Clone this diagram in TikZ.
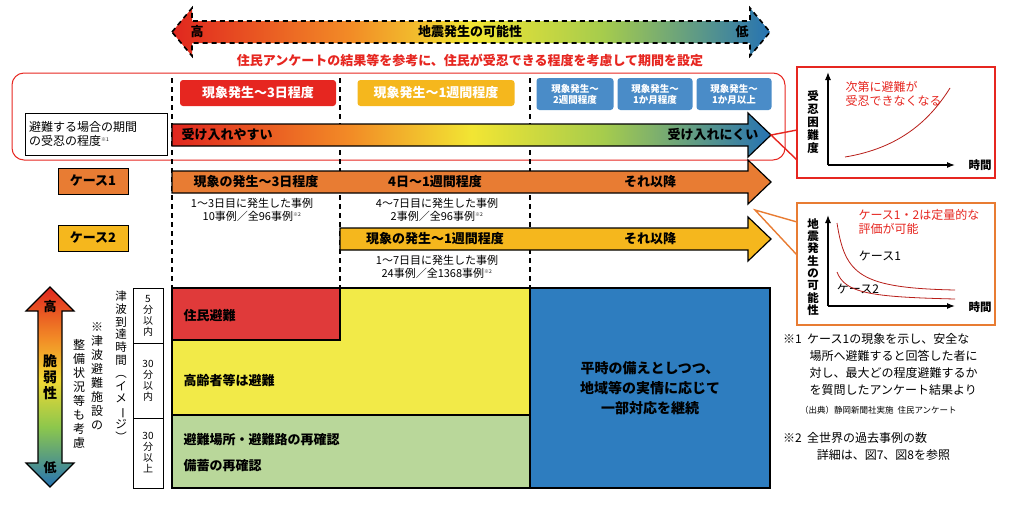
\documentclass[tikz,border=0pt]{standalone}
\usepackage{fontspec}
\setmainfont{Noto Sans CJK JP}
\usetikzlibrary{calc,arrows.meta}
\definecolor{cred}{HTML}{E62620}
\definecolor{corg}{HTML}{E87C33}
\definecolor{cyel}{HTML}{F5B71D}
\definecolor{cblu}{HTML}{4A8CC8}
\definecolor{tred}{HTML}{E03A3A}
\definecolor{tyel}{HTML}{F2EA48}
\definecolor{tgrn}{HTML}{B9D79A}
\definecolor{tblu}{HTML}{2E7DBF}
\pgfdeclarehorizontalshading{hgrad}{100bp}{rgb(0bp)=(0.88,0.15,0.12);rgb(25bp)=(0.88,0.15,0.12);rgb(40bp)=(0.95,0.55,0.15);rgb(50bp)=(0.95,0.9,0.2);rgb(61bp)=(0.65,0.8,0.3);rgb(75bp)=(0.15,0.45,0.7);rgb(100bp)=(0.15,0.45,0.7)}
\pgfdeclareverticalshading{vgrad}{100bp}{rgb(0bp)=(0.15,0.45,0.7);rgb(25bp)=(0.15,0.45,0.7);rgb(40bp)=(0.55,0.78,0.3);rgb(52bp)=(0.95,0.85,0.2);rgb(62bp)=(0.95,0.55,0.15);rgb(75bp)=(0.88,0.15,0.12);rgb(100bp)=(0.88,0.15,0.12)}
\tikzset{
  bt/.style={font=\bfseries\fontsize{13}{15}\selectfont},
  sm/.style={font=\fontsize{11}{13}\selectfont, align=center},
  wbox/.style={rounded corners=3pt, text=white, font=\bfseries\fontsize{13}{15}\selectfont, inner sep=0pt},
  bbox/.style={rounded corners=3pt, fill=cblu, text=white, font=\bfseries\fontsize{9.5}{11}\selectfont, align=center, inner sep=0pt},
  vtxt/.style={align=center, font=\fontsize{12}{12.5}\selectfont, inner sep=0pt},
  dl/.style={dashed, thick, dash pattern=on 5pt off 4pt},
}
\newcommand{\vbar}{\rotatebox[origin=c]{-90}{ー}}
\begin{document}
\begin{tikzpicture}[x=1pt,y=-1pt]
\useasboundingbox (0,0) rectangle (1011,507);
% top arrow
\shade[shading=hgrad, draw=black, dl, line width=1.6pt]
 (172,32)--(192,8)--(192,21)--(750,21)--(750,8)--(770,32)--(750,56)--(750,43)--(192,43)--(192,56)--cycle;
\node[bt] (hi) at (197,32) {高};
\node[bt] (lo) at (742,32) {低};
\node[bt] (pos) at (470,32) {地震発生の可能性};
\node[bt, text=cred] (note) at (470,60) {住民アンケートの結果等を参考に、住民が受忍できる程度を考慮して期間を設定};
% red rounded frame
\draw[cred, line width=1pt, rounded corners=12pt] (12,73) rectangle (785,160);
% dashed verticals
\foreach \x in {172,340,530} \draw[dl, line width=1.2pt] (\x,78)--(\x,290);
% period boxes
\node[wbox, fill=cred, minimum width=156pt, minimum height=26pt] (p1) at (258,93) {現象発生～3日程度};
\node[wbox, fill=cyel, minimum width=157pt, minimum height=26pt] (p2) at (436,93) {現象発生～1週間程度};
\node[bbox, minimum width=77pt, minimum height=32pt] (p3) at (575,94) {現象発生～\\2週間程度};
\node[bbox, minimum width=75pt, minimum height=32pt] (p4) at (655,94) {現象発生～\\1か月程度};
\node[bbox, minimum width=75pt, minimum height=32pt] (p5) at (734,94) {現象発生～\\1か月以上};
\node[draw, thick, fill=white, align=left, font=\fontsize{12}{14}\selectfont, minimum width=142pt, minimum height=42pt, text width=134pt] (lbl) at (96,134) {避難する場合の期間\\の受忍の程度\textsuperscript{\tiny ※1}};
% tolerance arrow
\shade[shading=hgrad, draw=black, line width=1.2pt]
 (172,124)--(748,124)--(748,113)--(771,135)--(748,157)--(748,146)--(172,146)--cycle;
\node[bt, anchor=west] (easy) at (178,135) {受け入れやすい};
\node[bt, anchor=east] (hard) at (762,135) {受け入れにくい};
\coordinate (tip1) at (771,135);
% red callout
\draw[cred, line width=1.4pt, fill=white] (797,67) rectangle (995,178);
\draw[cred, line width=1.4pt] (797,130)--(tip1)--(797,160);
\draw[-{Latex[length=8pt]}, line width=1.2pt] (828,165)--(828,72);
\draw[-{Latex[length=8pt]}, line width=1.2pt] (828,165)--(955,165);
\node[bt, font=\bfseries\fontsize{11.5}{11}\selectfont] (t1) at (980,165) {時間};
\node[vtxt, font=\bfseries\fontsize{11.5}{13}\selectfont] (ya1) at (813,122) {受\\忍\\困\\難\\度};
\node[align=left, text=cred, font=\fontsize{12}{14}\selectfont, anchor=north west] (r1) at (842,78) {次第に避難が\\受忍できなくなる};
\draw[cred!80!black, thick] (845,157) .. controls (900,148) and (930,120) .. (950,88);
% case 1
\node[draw, thick, fill=corg, bt, minimum width=70pt, minimum height=26pt] (c1) at (93,181) {ケース1};
\fill[corg, draw=black, line width=1.2pt] (172,171)--(748,171)--(748,160)--(771,182)--(748,204)--(748,193)--(172,193)--cycle;
\node[bt] (a1) at (256,182) {現象の発生～3日程度};
\node[bt] (a2) at (435,182) {4日～1週間程度};
\node[bt] (a3) at (650,182) {それ以降};
\node[sm] (n1) at (252,210) {1～3日目に発生した事例\\10事例／全96事例\textsuperscript{\tiny ※2}};
\node[sm] (n2) at (437,210) {4～7日目に発生した事例\\2事例／全96事例\textsuperscript{\tiny ※2}};
% case 2
\node[draw, thick, fill=cyel, bt, minimum width=70pt, minimum height=26pt] (c2) at (93,238) {ケース2};
\fill[cyel, draw=black, line width=1.2pt] (340,228)--(748,228)--(748,217)--(771,239)--(748,261)--(748,250)--(340,250)--cycle;
\node[bt] (b1) at (435,239) {現象の発生～1週間程度};
\node[bt] (b2) at (650,239) {それ以降};
\node[sm] (n3) at (437,267) {1～7日目に発生した事例\\24事例／全1368事例\textsuperscript{\tiny ※2}};
% orange callout
\coordinate (tip2) at (755,210);
\draw[corg, line width=1.4pt, fill=white] (797,203) rectangle (995,325);
\draw[corg, line width=1.4pt] (797,222)--(tip2)--(797,255);
\draw[-{Latex[length=8pt]}, line width=1.2pt] (828,306)--(828,215);
\draw[-{Latex[length=8pt]}, line width=1.2pt] (828,306)--(955,306);
\node[bt, font=\bfseries\fontsize{11.5}{11}\selectfont] (t2) at (980,307) {時間};
\node[vtxt, font=\bfseries\fontsize{11.5}{12.3}\selectfont] (ya2) at (813,267) {地\\震\\発\\生\\の\\可\\能\\性};
\node[align=left, text=cred, font=\fontsize{12}{14}\selectfont, anchor=north west] (r2) at (855,206) {ケース1・2は定量的な\\評価が可能};
\node[font=\fontsize{12}{14}\selectfont] (k1) at (880,256) {ケース1};
\node[font=\fontsize{12}{14}\selectfont] (k2) at (858,289) {ケース2};
\draw[cred!80!black, thick] (837,223) .. controls (845,275) and (860,288) .. (955,290);
\draw[cred!80!black, thick] (837,272) .. controls (845,293) and (870,297) .. (955,299);
% table
\fill[tyel] (172,340)--(340,340)--(340,288)--(530,288)--(530,415)--(172,415)--cycle;
\fill[tred] (172,288) rectangle (340,340);
\fill[tgrn] (172,415) rectangle (530,488);
\fill[tblu] (530,288) rectangle (770,488);
\draw[line width=1.2pt] (172,288)--(172,488)--(770,488)--(770,288)--(530,288)--(530,488);
\draw[line width=1.2pt] (172,288)--(340,288)--(530,288);
\draw[line width=1.2pt] (340,288)--(340,340)--(172,340);
\draw[line width=1.2pt] (172,415)--(530,415);
\node[bt, anchor=west, text=black] (s1) at (180,316) {住民避難};
\node[bt, anchor=west] (s2) at (180,381) {高齢者等は避難};
\node[bt, anchor=west] (s3) at (180,440) {避難場所・避難路の再確認};
\node[bt, anchor=west] (s4) at (180,466) {備蓄の再確認};
\node[bt, align=center, font=\bfseries\fontsize{14}{20}\selectfont] (s5) at (650,388) {平時の備えとしつつ、\\地域等の実情に応じて\\一部対応を継続};
% time column
\draw[thick] (133,288) rectangle (163,343);
\draw[thick] (133,343) rectangle (163,418);
\draw[thick] (133,418) rectangle (163,488);
\node[vtxt, font=\fontsize{10}{11}\selectfont] (tc1) at (148,316) {5\\分\\以\\内};
\node[vtxt, font=\fontsize{10}{11}\selectfont] (tc2) at (148,381) {30\\分\\以\\内};
\node[vtxt, font=\fontsize{10}{11}\selectfont] (tc3) at (148,453) {30\\分\\以\\上};
\node[vtxt, font=\fontsize{11.5}{12.8}\selectfont] (tsu) at (121,366) {津\\波\\到\\達\\時\\間\\︵\\イ\\メ\\\vbar\\ジ\\︶};
\node[vtxt, font=\fontsize{12}{14}\selectfont, anchor=north] (fac1) at (97,322) {※\\津\\波\\避\\難\\施\\設\\の};
\node[vtxt, font=\fontsize{12}{14}\selectfont, anchor=north] (fac2) at (79,339) {整\\備\\状\\況\\等\\も\\考\\慮};
% vulnerability arrow
\shade[shading=vgrad, draw=black, line width=1.2pt]
 (50,287)--(74,311)--(62,311)--(62,463)--(74,463)--(50,487)--(26,463)--(38,463)--(38,311)--(26,311)--cycle;
\node[bt] (vh) at (50,307) {高};
\node[bt, align=center, font=\bfseries\fontsize{14}{16}\selectfont] (vm) at (50,377) {脆\\弱\\性};
\node[bt] (vl) at (50,468) {低};
% notes
\node[anchor=north west, align=left, font=\fontsize{12}{17}\selectfont, inner sep=0pt] (nt1) at (783,333) {※1\ \ ケース1の現象を示し、安全な\\\hspace*{2.2em}場所へ避難すると回答した者に\\\hspace*{2.2em}対し、最大どの程度避難するか\\\hspace*{2.2em}を質問したアンケート結果より};
\node[anchor=north west, font=\fontsize{8.5}{10}\selectfont, inner sep=0pt] (nt2) at (800,406) {（出典）静岡新聞社実施\ \ 住民アンケート};
\node[anchor=north west, align=left, font=\fontsize{12}{17}\selectfont, inner sep=0pt] (nt3) at (783,432) {※2\ \ 全世界の過去事例の数\\\hspace*{2.8em}詳細は、図7、図8を参照};
\end{tikzpicture}
\end{document}
